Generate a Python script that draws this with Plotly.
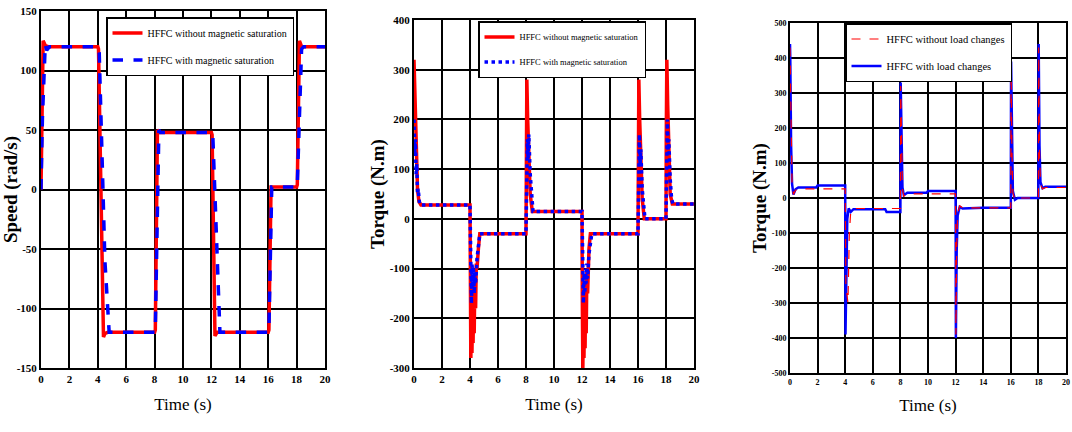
import plotly.graph_objects as go

# ---------------- data ----------------
# Panel 1: speed (rad/s)
t_speed_wo = [0, 0.08, 0.15, 0.3, 0.5, 4.0, 4.05, 4.4, 4.5, 4.7, 5.0, 8.0, 8.05, 8.2, 8.35,
              12.0, 12.05, 12.25, 12.4, 16.0, 16.05, 16.2, 18.0, 18.05, 18.2, 18.35, 20]
speed_wo = [0, 100, 125, 121, 120, 120, 118, -124, -121, -120, -120, -120, -118, 50, 48,
            48, 46, -123, -120, -120, -118, 2, 2, 4, 125, 120, 120]
t_speed_w = [0, 0.1, 0.3, 0.4, 0.6, 4.0, 4.1, 4.5, 4.8, 5.0, 8.0, 8.05, 8.3, 8.4,
             12.0, 12.1, 12.45, 12.6, 16.0, 16.05, 16.25, 18.0, 18.05, 18.35, 18.5, 20]
speed_w = [0, 60, 122, 117, 120, 120, 115, -60, -120, -120, -120, -118, 50, 48,
           48, 45, -80, -120, -120, -118, 2, 2, 4, 118, 120, 120]

# Panel 2: torque (N.m), magnetic saturation comparison
t_tq_wo = [0, 0.02, 0.08, 0.15, 0.25, 0.35, 0.5,
           4.0, 4.02, 4.06, 4.1, 4.14, 4.18, 4.22, 4.26, 4.3, 4.35, 4.4, 4.45, 4.5, 4.6, 4.7,
           8.0, 8.02, 8.06, 8.12, 8.2, 8.3, 8.45,
           12.0, 12.02, 12.06, 12.1, 12.14, 12.18, 12.22, 12.26, 12.3, 12.35, 12.4, 12.5, 12.6,
           16.0, 16.02, 16.06, 16.12, 16.2, 16.3, 16.45,
           18.0, 18.02, 18.06, 18.12, 18.2, 18.3, 18.45, 20]
tq_wo = [320, 300, 200, 120, 60, 35, 28,
         28, -150, -280, -200, -270, -180, -250, -140, -230, -110, -180, -90, -100, -60, -30,
         -30, 150, 280, 200, 120, 50, 15,
         15, -150, -300, -200, -280, -170, -260, -130, -230, -100, -150, -60, -30,
         -30, 150, 280, 200, 110, 40, 0,
         0, 170, 320, 230, 120, 50, 30, 30]
t_tq_w = [0, 0.05, 0.1, 0.15, 0.2, 0.25, 0.3, 0.4, 0.5,
          4.0, 4.05, 4.1, 4.15, 4.2, 4.25, 4.3, 4.35, 4.4, 4.5, 4.6, 4.7,
          8.0, 8.05, 8.1, 8.15, 8.2, 8.3, 8.4, 8.5,
          12.0, 12.05, 12.1, 12.15, 12.2, 12.25, 12.3, 12.35, 12.4, 12.5, 12.6, 12.7,
          16.0, 16.05, 16.1, 16.15, 16.2, 16.3, 16.4, 16.5,
          18.0, 18.05, 18.1, 18.15, 18.2, 18.3, 18.4, 18.5, 20]
tq_w = [200, 130, 160, 90, 110, 50, 60, 30, 28,
        28, -60, -170, -90, -140, -100, -150, -110, -130, -80, -60, -30,
        -30, 100, 160, 120, 170, 90, 40, 15,
        15, -60, -170, -110, -150, -100, -130, -90, -120, -70, -50, -30,
        -30, 80, 170, 110, 140, 60, 20, 0,
        0, 100, 200, 130, 160, 80, 40, 30, 30]

# Panel 3: torque (N.m), load change comparison
t_ld_wo = [0, 0.02, 0.08, 0.15, 0.25, 0.4, 0.6,
           4.0, 4.05, 4.2, 4.3, 4.4, 4.6,
           8.0, 8.02, 8.08, 8.15, 8.25, 8.5,
           12.0, 12.02, 12.08, 12.15, 12.3, 12.5,
           16.0, 16.02, 16.08, 16.15, 16.3, 16.5,
           18.0, 18.02, 18.08, 18.15, 18.3, 18.5, 20]
ld_wo = [430, 380, 150, 40, 10, 22, 26,
         26, -250, -300, -100, -40, -30,
         -30, 320, 140, 25, 5, 12,
         12, -390, -140, -45, -22, -28,
         -28, 380, 140, 15, -5, 0,
         0, 430, 140, 40, 26, 30, 30]
t_ld_w = [0, 0.02, 0.08, 0.15, 0.25, 0.4, 0.6, 1.9, 2.0,
          4.0, 4.02, 4.08, 4.15, 4.25, 4.4, 4.6, 6.9, 7.0,
          8.0, 8.02, 8.08, 8.15, 8.25, 8.5, 9.9, 10.0,
          12.0, 12.02, 12.08, 12.15, 12.3, 12.5, 14.0,
          16.0, 16.02, 16.08, 16.15, 16.3, 16.5,
          18.0, 18.02, 18.08, 18.15, 18.3, 18.5, 20]
ld_w = [440, 400, 150, 40, 10, 25, 30, 30, 36,
        36, -390, -200, -60, -30, -40, -32, -32, -40,
        -40, 330, 150, 30, 8, 15, 15, 20,
        20, -400, -150, -50, -25, -30, -28,
        -28, 390, 150, 20, -5, 0,
        0, 440, 150, 45, 28, 32, 32]

# tick labels
x_ticks = [0, 2, 4, 6, 8, 10, 12, 14, 16, 18, 20]
y1_ticks = [-150, -100, -50, 0, 50, 100, 150]
y2_ticks = [-300, -200, -100, 0, 100, 200, 300, 400]
y3_ticks = [-500, -400, -300, -200, -100, 0, 100, 200, 300, 400, 500]

names1 = ["HFFC without magnetic saturation", "HFFC with magnetic saturation"]
names3 = ["HFFC without load changes", "HFFC with load changes"]

# ---------------- figure ----------------
RED = "#ff0000"
BLUE = "#0000ff"
SERIF = "Liberation Serif"

fig = go.Figure()

fig.add_trace(go.Scatter(x=t_speed_wo, y=speed_wo, mode="lines", name=names1[0],
                         line=dict(color=RED, width=3.5), xaxis="x", yaxis="y",
                         legend="legend", legendgroup="a"))
fig.add_trace(go.Scatter(x=t_speed_w, y=speed_w, mode="lines", name=names1[1],
                         line=dict(color=BLUE, width=3.5, dash="dash"), xaxis="x", yaxis="y",
                         legend="legend", legendgroup="b"))

fig.add_trace(go.Scatter(x=t_tq_wo, y=tq_wo, mode="lines", name=names1[0],
                         line=dict(color=RED, width=3.5), xaxis="x2", yaxis="y2",
                         legend="legend2", legendgroup="c"))
fig.add_trace(go.Scatter(x=t_tq_w, y=tq_w, mode="lines", name=names1[1],
                         line=dict(color=BLUE, width=3.5, dash="dot"), xaxis="x2", yaxis="y2",
                         legend="legend2", legendgroup="d"))

fig.add_trace(go.Scatter(x=t_ld_w, y=ld_w, mode="lines", name=names3[1],
                         line=dict(color=BLUE, width=2.5), xaxis="x3", yaxis="y3",
                         legend="legend3", legendrank=2, legendgroup="f"))
fig.add_trace(go.Scatter(x=t_ld_wo, y=ld_wo, mode="lines", name=names3[0],
                         line=dict(color=RED, width=1.2, dash="dash"), xaxis="x3", yaxis="y3",
                         legend="legend3", legendrank=1, legendgroup="e"))

W, H = 1072, 432


def px_dom_x(a, b):
    return [a / W, b / W]


def px_dom_y(top, bottom):
    return [1 - bottom / H, 1 - top / H]


tickfont = dict(family=SERIF, size=11, color="black", weight="bold")
tickfont3 = dict(family=SERIF, size=8, color="black", weight="bold")
xtitle = dict(text="Time (s)", font=dict(family=SERIF, size=17, color="black"), standoff=14)


def xaxis(dom, anchor, tf):
    return dict(domain=dom, anchor=anchor, range=[0, 20], tickvals=x_ticks,
                ticktext=[str(v) for v in x_ticks], tickfont=tf,
                showgrid=True, gridcolor="black", gridwidth=1.5, zeroline=False,
                showline=True, linecolor="black", linewidth=2, mirror=True,
                ticks="", title=xtitle, automargin=False)


def yaxis(dom, anchor, rng, tv, tf, title):
    return dict(domain=dom, anchor=anchor, range=rng, tickvals=tv,
                ticktext=[str(v) for v in tv], tickfont=tf,
                showgrid=True, gridcolor="black", gridwidth=1.5, zeroline=False,
                showline=True, linecolor="black", linewidth=2, mirror=True,
                ticks="", automargin=False,
                title=dict(text=title, font=dict(family=SERIF, size=19, color="black",
                                                 weight="bold"), standoff=0))


fig.update_layout(
    width=W, height=H,
    margin=dict(l=0, r=0, t=0, b=0, autoexpand=False),
    paper_bgcolor="white", plot_bgcolor="white",
    showlegend=True,
    xaxis=xaxis(px_dom_x(41, 325), "y", tickfont),
    yaxis=yaxis(px_dom_y(11, 368), "x", [-150, 150], y1_ticks, tickfont, "Speed (rad/s)"),
    xaxis2=xaxis(px_dom_x(414, 694), "y2", tickfont),
    yaxis2=yaxis(px_dom_y(20, 368), "x2", [-300, 400], y2_ticks, tickfont, "Torque (N.m)"),
    xaxis3=xaxis(px_dom_x(790, 1066), "y3", tickfont3),
    yaxis3=yaxis(px_dom_y(23, 373), "x3", [-500, 500], y3_ticks, tickfont3, "Torque (N.m)"),
    legend=dict(x=106 / W, y=1 - 17 / H, xanchor="left", yanchor="top",
                font=dict(family=SERIF, size=10, color="black"),
                bgcolor="white", bordercolor="black", borderwidth=1.5,
                tracegroupgap=8, itemwidth=30, entrywidth=0),
    legend2=dict(x=478 / W, y=1 - 21 / H, xanchor="left", yanchor="top",
                 font=dict(family=SERIF, size=8.5, color="black"),
                 bgcolor="white", bordercolor="black", borderwidth=1.5,
                 tracegroupgap=6, itemwidth=30),
    legend3=dict(x=845 / W, y=1 - 23 / H, xanchor="left", yanchor="top",
                 font=dict(family=SERIF, size=10.5, color="black"),
                 bgcolor="white", bordercolor="black", borderwidth=1.5,
                 tracegroupgap=8, itemwidth=30),
)

fig.write_html("out.html", config={"displayModeBar": False},
               post_script="document.body.style.margin='0';document.body.style.overflow='hidden';")
